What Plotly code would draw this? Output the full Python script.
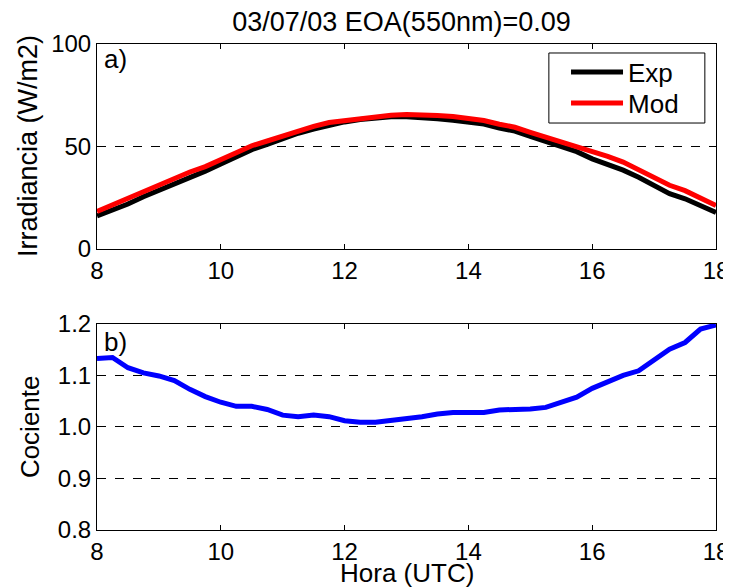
import plotly.graph_objects as go

hours = [8.0 + 0.25 * i for i in range(41)]

exp_vals = [16.2, 19.0, 22.0, 25.5, 28.5, 31.5, 35.0, 38.0, 41.5, 45.0,
            48.5, 51.0, 54.0, 56.5, 58.5, 60.5, 62.0, 63.2, 64.0, 64.5,
            64.5, 64.3, 63.5, 62.8, 62.0, 61.0, 59.0, 57.5, 55.0, 52.5,
            50.0, 47.5, 44.0, 41.5, 38.5, 35.0, 31.0, 27.0, 24.5, 21.0, 17.8]

mod_vals = [18.4, 21.6, 24.5, 28.2, 31.3, 34.3, 37.6, 40.2, 43.5, 46.8,
            50.4, 52.7, 55.2, 57.6, 59.8, 61.7, 62.7, 63.8, 64.6, 65.3,
            65.6, 65.6, 65.1, 64.6, 63.7, 62.7, 60.9, 59.4, 56.9, 54.5,
            52.4, 50.3, 47.3, 45.2, 42.4, 38.8, 35.0, 31.1, 28.5, 25.0, 21.3]

ratio_vals = [1.133, 1.135, 1.115, 1.105, 1.099, 1.090, 1.073, 1.059, 1.048, 1.040,
              1.040, 1.034, 1.023, 1.020, 1.023, 1.020, 1.012, 1.009, 1.009, 1.012,
              1.017, 1.020, 1.025, 1.028, 1.028, 1.028, 1.033, 1.033, 1.035, 1.038,
              1.047, 1.058, 1.075, 1.088, 1.100, 1.109, 1.130, 1.151, 1.164, 1.190, 1.198]

x_ticks = [8, 10, 12, 14, 16, 18]
y1_ticks = [0, 50, 100]
y2_ticks = [0.8, 0.9, 1.0, 1.1, 1.2]

FONT = "Liberation Sans, Arial, sans-serif"
FS = 26      # titles / legend
TFS = 24     # tick labels

fig = go.Figure()
fig.add_trace(go.Scatter(x=hours, y=exp_vals, mode="lines", name="Exp",
                         line=dict(color="#000000", width=5), xaxis="x", yaxis="y",
                         legend="legend"))
fig.add_trace(go.Scatter(x=hours, y=mod_vals, mode="lines", name="Mod",
                         line=dict(color="#ff0000", width=5), xaxis="x", yaxis="y",
                         legend="legend2"))
fig.add_trace(go.Scatter(x=hours, y=ratio_vals, mode="lines", name="Cociente",
                         line=dict(color="#0000ff", width=5), xaxis="x2", yaxis="y2",
                         showlegend=False))

axis_common = dict(showline=True, linecolor="black", linewidth=1, mirror="ticks",
                   ticks="inside", ticklen=5, tickcolor="black", zeroline=False,
                   automargin=False,
                   tickfont=dict(family=FONT, size=TFS, color="black"))

leg_common = dict(xanchor="left", yanchor="middle", bgcolor="rgba(0,0,0,0)",
                  borderwidth=0, font=dict(family=FONT, size=FS, color="black"),
                  itemwidth=52)

fig.update_layout(
    width=731, height=587,
    paper_bgcolor="white", plot_bgcolor="white",
    margin=dict(l=89, r=23, t=36, b=65, autoexpand=False),
    font=dict(family=FONT, size=FS, color="black"),
    title=dict(text="03/07/03 EOA(550nm)=0.09", x=0.5383, xanchor="center",
               y=0.9761, yanchor="middle", font=dict(family=FONT, size=27, color="black")),
    xaxis=dict(domain=[0, 1], range=[8, 18], tickvals=x_ticks, showgrid=False,
               anchor="y", **axis_common),
    yaxis=dict(domain=[0.578, 1], range=[0, 100], tickvals=y1_ticks, showgrid=True,
               gridcolor="black", griddash="dash", gridwidth=1, anchor="x",
               **axis_common),
    xaxis2=dict(domain=[0, 1], range=[8, 18], tickvals=x_ticks, showgrid=False,
                anchor="y2", **axis_common),
    yaxis2=dict(domain=[0, 0.424], range=[0.8, 1.2], tickvals=y2_ticks, tickformat=".1f",
                showgrid=True, gridcolor="black", griddash="dash", gridwidth=1, anchor="x2",
                **axis_common),
    legend=dict(x=0.7577, y=0.9424, **leg_common),
    legend2=dict(x=0.7577, y=0.8786, **leg_common),
    showlegend=True,
)

# legend frame
fig.add_shape(type="rect", xref="paper", yref="paper",
              x0=0.730, x1=0.982, y0=0.8374, y1=0.9815,
              line=dict(color="black", width=1), fillcolor="rgba(0,0,0,0)", layer="above")

# axis titles
fig.add_annotation(text="Irradiancia (W/m2)", xref="paper", yref="paper",
                   x=-0.1115, y=0.790, textangle=-90, showarrow=False,
                   xanchor="center", yanchor="middle",
                   font=dict(family=FONT, size=27, color="black"))
fig.add_annotation(text="Cociente", xref="paper", yref="paper",
                   x=-0.108, y=0.212, textangle=-90, showarrow=False,
                   xanchor="center", yanchor="middle",
                   font=dict(family=FONT, size=FS, color="black"))
fig.add_annotation(text="Hora (UTC)", xref="paper", yref="paper",
                   x=0.5, y=-0.123, showarrow=False,
                   xanchor="center", yanchor="bottom",
                   font=dict(family=FONT, size=FS, color="black"))

fig.add_annotation(text="a)", xref="x", yref="y", x=8.08, y=92.5, xanchor="left",
                   yanchor="middle", showarrow=False,
                   font=dict(family=FONT, size=FS, color="black"))
fig.add_annotation(text="b)", xref="x2", yref="y2", x=8.08, y=1.165, xanchor="left",
                   yanchor="middle", showarrow=False,
                   font=dict(family=FONT, size=FS, color="black"))

fig.write_html("out.html")
